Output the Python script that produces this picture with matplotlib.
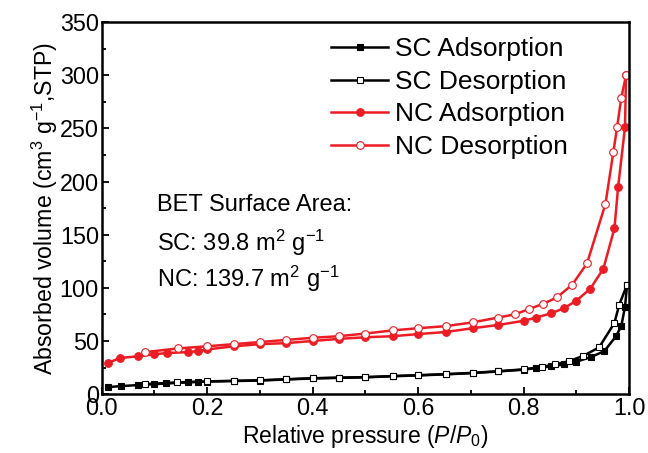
import matplotlib
matplotlib.use('Agg')
import matplotlib.pyplot as plt
from matplotlib.ticker import MultipleLocator

# Шрифты в стиле Arial
plt.rcParams['font.family'] = ['Liberation Sans', 'DejaVu Sans']
plt.rcParams['mathtext.fontset'] = 'custom'
plt.rcParams['mathtext.rm'] = 'Liberation Sans'
plt.rcParams['mathtext.it'] = 'Liberation Sans:italic'

# Данные
sc_ads_x = [0.011, 0.036, 0.068, 0.10, 0.122, 0.163, 0.182, 0.20, 0.25, 0.30, 0.35, 0.40,
            0.45, 0.50, 0.552, 0.60, 0.653, 0.703, 0.751, 0.80, 0.823, 0.852, 0.877, 0.90,
            0.928, 0.953, 0.975, 0.985, 0.992, 0.996]
sc_ads_y = [6.6, 7.5, 8.5, 9.4, 10.0, 11.0, 11.5, 11.8, 12.3, 12.8, 13.8, 14.7,
            15.3, 15.8, 16.8, 17.6, 18.6, 19.8, 21.3, 23.0, 24.5, 26.0, 28.0, 30.5,
            35.0, 40.5, 54.5, 64.0, 82.0, 103.0]

sc_des_x = [0.082, 0.143, 0.20, 0.25, 0.30, 0.35, 0.40, 0.45, 0.50, 0.552, 0.60, 0.653,
            0.703, 0.751, 0.80, 0.834, 0.86, 0.886, 0.913, 0.943, 0.972, 0.981, 0.996]
sc_des_y = [9.4, 11.0, 12.0, 12.5, 13.0, 14.0, 15.0, 15.5, 16.0, 17.0, 17.8, 18.8,
            20.0, 21.5, 23.3, 25.6, 28.0, 31.0, 36.0, 44.0, 67.0, 84.0, 103.0]

nc_ads_x = [0.011, 0.034, 0.068, 0.10, 0.123, 0.163, 0.182, 0.20, 0.25, 0.30, 0.35, 0.40,
            0.45, 0.50, 0.552, 0.60, 0.653, 0.703, 0.751, 0.80, 0.823, 0.852, 0.877, 0.90,
            0.926, 0.951, 0.972, 0.979, 0.992, 0.994]
nc_ads_y = [29.0, 34.0, 35.5, 37.6, 38.6, 39.5, 40.5, 42.0, 45.0, 47.0, 48.0, 50.0,
            52.0, 53.5, 54.5, 56.5, 58.5, 62.0, 65.0, 69.0, 72.0, 76.0, 81.0, 88.0,
            99.0, 118.0, 156.0, 195.0, 251.0, 300.0]

nc_des_x = [0.082, 0.145, 0.20, 0.25, 0.30, 0.35, 0.40, 0.45, 0.50, 0.552, 0.60, 0.653,
            0.703, 0.751, 0.783, 0.81, 0.837, 0.863, 0.892, 0.92, 0.955, 0.970, 0.977,
            0.985, 0.994]
nc_des_y = [39.5, 43.0, 45.0, 47.0, 49.0, 51.0, 53.0, 54.5, 57.0, 60.0, 62.0, 64.0,
            67.5, 72.0, 75.0, 80.0, 85.0, 91.0, 103.0, 123.0, 179.0, 228.0, 251.0,
            279.0, 300.0]

RED = '#ec1c24'

fig = plt.figure(figsize=(6.48, 4.53), dpi=100)
ax = fig.add_axes([0.157, 0.130, 0.814, 0.821])

ax.plot(sc_ads_x, sc_ads_y, color='black', lw=1.8, marker='s', ms=4.8,
        mfc='black', mec='black', mew=0.8, label='SC Adsorption')
ax.plot(sc_des_x, sc_des_y, color='black', lw=1.8, marker='s', ms=4.8,
        mfc='white', mec='black', mew=0.8, label='SC Desorption')
ax.plot(nc_ads_x, nc_ads_y, color=RED, lw=1.8, marker='o', ms=5.5,
        mfc=RED, mec=RED, mew=0.8, label='NC Adsorption')
ax.plot(nc_des_x, nc_des_y, color=RED, lw=1.8, marker='o', ms=5.5,
        mfc='white', mec=RED, mew=0.8, label='NC Desorption')

ax.set_xlim(0, 1.0)
ax.set_ylim(0, 350)
ax.xaxis.set_major_locator(MultipleLocator(0.2))
ax.xaxis.set_minor_locator(MultipleLocator(0.1))
ax.yaxis.set_major_locator(MultipleLocator(50))
ax.yaxis.set_minor_locator(MultipleLocator(25))
ax.tick_params(which='both', direction='in', labelsize=16.8, width=1.3, pad=2)
ax.tick_params(which='major', length=5)
ax.tick_params(which='minor', length=3)
ax.xaxis.set_major_formatter(plt.FuncFormatter(lambda v, p: f'{v:.1f}'))
for s in ax.spines.values():
    s.set_linewidth(1.8)

ax.set_xlabel('Relative pressure ($P/P_0$)', fontsize=16.5, labelpad=2)
ax.set_ylabel('Absorbed volume (cm$^3$ g$^{−1}$,STP)', fontsize=16.7, labelpad=0)

ax.legend(loc='upper left', fontsize=19, frameon=False, handlelength=2.15,
          handletextpad=0.28, labelspacing=0.33, borderpad=0, borderaxespad=0,
          bbox_to_anchor=(0.435, 0.96))

ax.text(0.104, 178, 'BET Surface Area:', fontsize=17, va='center')
ax.text(0.104, 142, 'SC: 39.8 m$^2$ g$^{−1}$', fontsize=17, va='center')
ax.text(0.104, 108, 'NC: 139.7 m$^2$ g$^{−1}$', fontsize=17, va='center')

fig.savefig('out.png', dpi=100)
